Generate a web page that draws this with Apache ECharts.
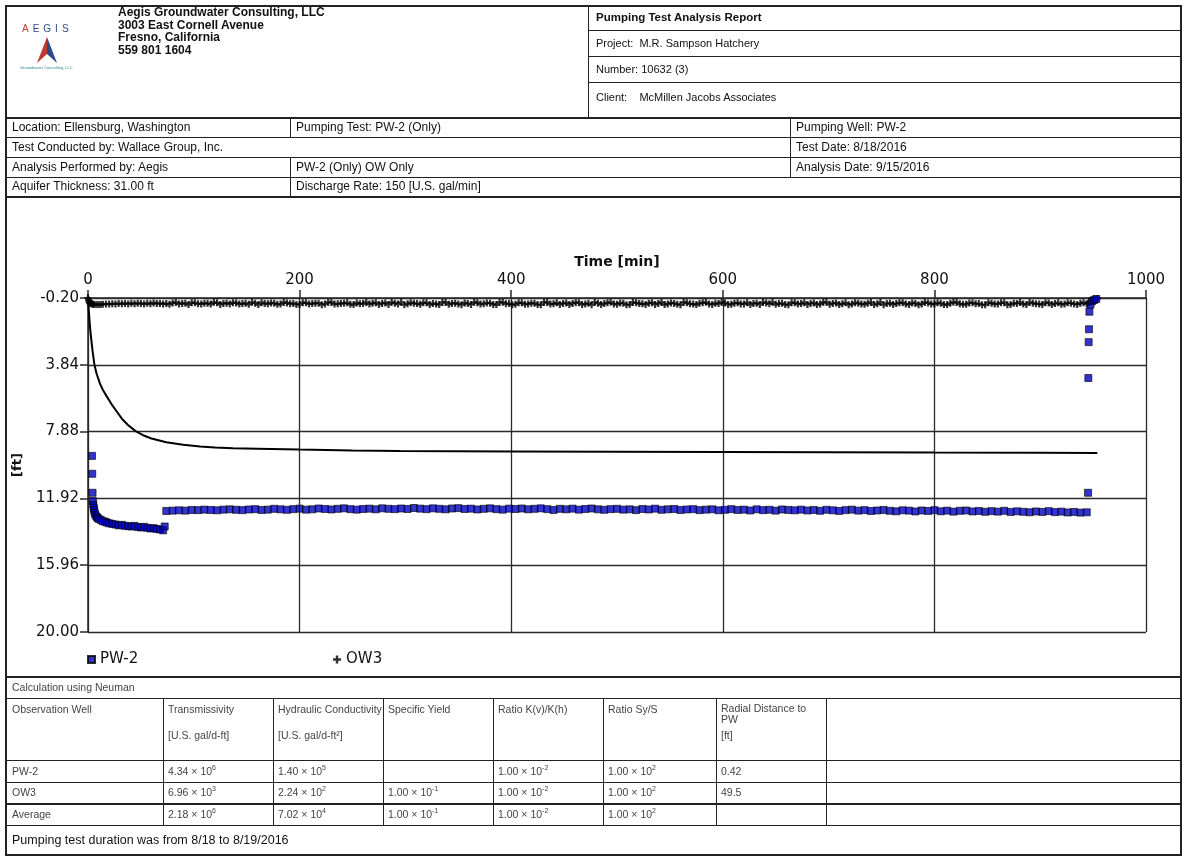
<!DOCTYPE html>
<html><head><meta charset="utf-8">
<script src="https://cdn.jsdelivr.net/npm/echarts@6/dist/echarts.min.js"></script>
<style>
html,body{margin:0;padding:0;background:#fff;}
#page{position:relative;width:1185px;height:859px;overflow:hidden;font-family:'Liberation Sans',Arial,sans-serif;color:#111;}
#chart{position:absolute;left:0;top:0;width:1185px;height:859px;}
.ov{position:absolute;left:0;top:0;width:1185px;height:859px;pointer-events:none;}
.h{position:absolute;height:0;border-top:1.5px solid #222;}
.v{position:absolute;width:0;border-left:1.5px solid #222;}
.t{position:absolute;white-space:nowrap;font-size:12px;}
.r{position:absolute;white-space:nowrap;font-size:12px;line-height:20px;}
.s{position:absolute;white-space:nowrap;font-size:10.5px;color:#444;}
.s sup{font-size:7px;vertical-align:5px;line-height:0;}
</style></head>
<body>
<div id="page">
<div id="chart"></div>
<div class="ov">
  <div style="position:absolute;left:5px;top:5px;width:1177px;height:851px;border:2px solid #222;box-sizing:border-box;"></div>
  <!-- header block -->
  <div class="t" style="left:22px;top:23px;font-size:10px;letter-spacing:4px;"><span style="color:#c0392b">A</span><span style="color:#2e4a8a">EGIS</span></div>
  <svg style="position:absolute;left:37px;top:37px" width="20" height="26" viewBox="0 0 20 26"><polygon points="10,0 0,26 10,17" fill="#c0392b"/><polygon points="10,0 20,26 10,17" fill="#2e4a8a"/></svg>
  <div class="t" style="left:20px;top:65px;font-size:4px;color:#2a8a8a;">Groundwater Consulting, LLC</div>
  <div class="t" style="left:118px;top:6px;font-weight:bold;font-size:12px;line-height:12.5px;">Aegis Groundwater Consulting, LLC<br>3003 East Cornell Avenue<br>Fresno, California<br>559 801 1604</div>
  <div class="v" style="left:588px;top:5px;height:112px;"></div>
  <div class="h" style="left:588px;top:30px;width:594px;"></div>
  <div class="h" style="left:588px;top:56px;width:594px;"></div>
  <div class="h" style="left:588px;top:82px;width:594px;"></div>
  <div class="t" style="left:596px;top:5px;line-height:25px;font-weight:bold;font-size:11.5px;">Pumping Test Analysis Report</div>
  <div class="t" style="left:596px;top:30px;line-height:26px;font-size:11px;">Project:&nbsp; M.R. Sampson Hatchery</div>
  <div class="t" style="left:596px;top:56px;line-height:26px;font-size:11px;">Number: 10632 (3)</div>
  <div class="t" style="left:596px;top:82px;line-height:30px;font-size:11px;">Client:&nbsp;&nbsp;&nbsp; McMillen Jacobs Associates</div>
  <div class="h" style="left:5px;top:117px;width:1177px;border-top-width:2px;"></div>
  <div class="h" style="left:5px;top:137px;width:1177px;"></div>
  <div class="h" style="left:5px;top:157px;width:1177px;"></div>
  <div class="h" style="left:5px;top:177px;width:1177px;"></div>
  <div class="h" style="left:5px;top:196px;width:1177px;border-top-width:2px;"></div>
  <div class="v" style="left:290px;top:117px;height:20px;"></div>
  <div class="v" style="left:790px;top:117px;height:20px;"></div>
  <div class="v" style="left:790px;top:137px;height:20px;"></div>
  <div class="v" style="left:290px;top:157px;height:20px;"></div>
  <div class="v" style="left:790px;top:157px;height:20px;"></div>
  <div class="v" style="left:290px;top:177px;height:19px;"></div>
  <div class="r" style="left:12px;top:117px;">Location: Ellensburg, Washington</div>
  <div class="r" style="left:296px;top:117px;">Pumping Test: PW-2 (Only)</div>
  <div class="r" style="left:796px;top:117px;">Pumping Well: PW-2</div>
  <div class="r" style="left:12px;top:137px;">Test Conducted by: Wallace Group, Inc.</div>
  <div class="r" style="left:796px;top:137px;">Test Date: 8/18/2016</div>
  <div class="r" style="left:12px;top:157px;">Analysis Performed by: Aegis</div>
  <div class="r" style="left:296px;top:157px;">PW-2 (Only) OW Only</div>
  <div class="r" style="left:796px;top:157px;">Analysis Date: 9/15/2016</div>
  <div class="r" style="left:12px;top:177px;line-height:19px;">Aquifer Thickness: 31.00 ft</div>
  <div class="r" style="left:296px;top:177px;line-height:19px;">Discharge Rate: 150 [U.S. gal/min]</div>
  <!-- results table -->
  <div class="h" style="left:5px;top:676px;width:1177px;border-top-width:2px;"></div>
  <div class="h" style="left:5px;top:698px;width:1177px;"></div>
  <div class="h" style="left:5px;top:760px;width:1177px;"></div>
  <div class="h" style="left:5px;top:782px;width:1177px;"></div>
  <div class="h" style="left:5px;top:803px;width:1177px;border-top-width:2px;"></div>
  <div class="h" style="left:5px;top:825px;width:1177px;"></div>
  <div class="v" style="left:163px;top:698px;height:127px;"></div>
  <div class="v" style="left:273px;top:698px;height:127px;"></div>
  <div class="v" style="left:383px;top:698px;height:127px;"></div>
  <div class="v" style="left:493px;top:698px;height:127px;"></div>
  <div class="v" style="left:603px;top:698px;height:127px;"></div>
  <div class="v" style="left:716px;top:698px;height:127px;"></div>
  <div class="v" style="left:826px;top:698px;height:127px;"></div>
  <div class="s" style="left:12px;top:676px;line-height:22px;">Calculation using Neuman</div>
  <div class="s" style="left:12px;top:703px;">Observation Well</div>
  <div class="s" style="left:168px;top:703px;">Transmissivity</div>
  <div class="s" style="left:168px;top:729px;">[U.S. gal/d-ft]</div>
  <div class="s" style="left:278px;top:703px;">Hydraulic Conductivity</div>
  <div class="s" style="left:278px;top:729px;">[U.S. gal/d-ft²]</div>
  <div class="s" style="left:388px;top:703px;">Specific Yield</div>
  <div class="s" style="left:498px;top:703px;">Ratio K(v)/K(h)</div>
  <div class="s" style="left:608px;top:703px;">Ratio Sy/S</div>
  <div class="s" style="left:721px;top:703px;line-height:11px;">Radial Distance to<br>PW</div>
  <div class="s" style="left:721px;top:729px;">[ft]</div>
  <div class="s" style="left:12px;top:760px;line-height:22px;">PW-2</div>
  <div class="s" style="left:168px;top:760px;line-height:22px;">4.34 × 10<sup>6</sup></div>
  <div class="s" style="left:278px;top:760px;line-height:22px;">1.40 × 10<sup>5</sup></div>
  <div class="s" style="left:498px;top:760px;line-height:22px;">1.00 × 10<sup>-2</sup></div>
  <div class="s" style="left:608px;top:760px;line-height:22px;">1.00 × 10<sup>2</sup></div>
  <div class="s" style="left:721px;top:760px;line-height:22px;">0.42</div>
  <div class="s" style="left:12px;top:782px;line-height:21px;">OW3</div>
  <div class="s" style="left:168px;top:782px;line-height:21px;">6.96 × 10<sup>3</sup></div>
  <div class="s" style="left:278px;top:782px;line-height:21px;">2.24 × 10<sup>2</sup></div>
  <div class="s" style="left:388px;top:782px;line-height:21px;">1.00 × 10<sup>-1</sup></div>
  <div class="s" style="left:498px;top:782px;line-height:21px;">1.00 × 10<sup>-2</sup></div>
  <div class="s" style="left:608px;top:782px;line-height:21px;">1.00 × 10<sup>2</sup></div>
  <div class="s" style="left:721px;top:782px;line-height:21px;">49.5</div>
  <div class="s" style="left:12px;top:803px;line-height:22px;">Average</div>
  <div class="s" style="left:168px;top:803px;line-height:22px;">2.18 × 10<sup>6</sup></div>
  <div class="s" style="left:278px;top:803px;line-height:22px;">7.02 × 10<sup>4</sup></div>
  <div class="s" style="left:388px;top:803px;line-height:22px;">1.00 × 10<sup>-1</sup></div>
  <div class="s" style="left:498px;top:803px;line-height:22px;">1.00 × 10<sup>-2</sup></div>
  <div class="s" style="left:608px;top:803px;line-height:22px;">1.00 × 10<sup>2</sup></div>
  <div class="t" style="left:12px;top:825px;line-height:30px;font-size:12.5px;">Pumping test duration was from 8/18 to 8/19/2016</div>
</div>
</div>
<script>
// ---- data (time in minutes, drawdown in ft) ----
const xTicks = [0, 200, 400, 600, 800, 1000];
const yTicks = [-0.20, 3.84, 7.88, 11.92, 15.96, 20.00];

// Neuman type-curve fit (solid line)
const fitT = [0,0.5,1,1.6,2.5,3.5,4.4,6,8,11.3,14,17.7,22,27,32,38,45,52,60,74,90,106,120,137,160,200,250,295,400,500,600,700,800,900,954];
const fitV = [-0.2,0.35,0.75,1.33,1.95,2.55,3.05,3.8,4.35,4.98,5.35,5.75,6.2,6.65,7.1,7.5,7.85,8.1,8.3,8.52,8.67,8.78,8.84,8.89,8.92,8.97,9.02,9.06,9.08,9.1,9.12,9.13,9.15,9.16,9.17];

// PW-2 early readings
const pwEarlyT = [3.8,4.0,4.3,4.6,5.0,5.4,5.8,6.3,7,8,9,10,12,14,16,18,20,23,26,29,32,35,38,41,44,47,50,53,56,59,62,65,68,71,72.5];
const pwEarlyV = [9.35,10.43,11.58,12.08,12.3,12.48,12.62,12.79,12.92,13.02,13.1,13.15,13.22,13.3,13.33,13.38,13.43,13.46,13.5,13.55,13.52,13.58,13.6,13.62,13.58,13.65,13.68,13.64,13.7,13.74,13.72,13.77,13.8,13.85,13.62];

// regular readings (both wells)
const gridT = [74,80,86,92,98,104,110,116,122,128,
134,140,146,152,158,164,170,176,182,188,
194,200,206,212,218,224,230,236,242,248,
254,260,266,272,278,284,290,296,302,308,
314,320,326,332,338,344,350,356,362,368,
374,380,386,392,398,404,410,416,422,428,
434,440,446,452,458,464,470,476,482,488,
494,500,506,512,518,524,530,536,542,548,
554,560,566,572,578,584,590,596,602,608,
614,620,626,632,638,644,650,656,662,668,
674,680,686,692,698,704,710,716,722,728,
734,740,746,752,758,764,770,776,782,788,
794,800,806,812,818,824,830,836,842,848,
854,860,866,872,878,884,890,896,902,908,
914,920,926,932,938,944];
const pwBandV = [12.68,12.66,12.64,12.66,12.62,12.63,12.60,12.62,12.64,12.60,
12.58,12.61,12.63,12.59,12.57,12.62,12.60,12.55,12.58,12.61,
12.57,12.54,12.60,12.58,12.53,12.56,12.59,12.55,12.52,12.57,
12.60,12.56,12.54,12.58,12.52,12.55,12.57,12.53,12.56,12.50,
12.54,12.57,12.52,12.55,12.58,12.53,12.51,12.56,12.54,12.59,
12.55,12.52,12.57,12.60,12.54,12.56,12.53,12.58,12.55,12.52,
12.57,12.62,12.55,12.58,12.54,12.60,12.56,12.53,12.58,12.61,
12.57,12.55,12.60,12.58,12.63,12.56,12.59,12.54,12.61,12.58,
12.56,12.62,12.59,12.57,12.63,12.60,12.58,12.64,12.61,12.57,
12.62,12.60,12.65,12.58,12.63,12.61,12.66,12.59,12.62,12.64,
12.60,12.65,12.62,12.67,12.61,12.64,12.68,12.63,12.60,12.66,
12.63,12.68,12.65,12.62,12.67,12.70,12.64,12.66,12.71,12.65,
12.68,12.63,12.70,12.66,12.72,12.67,12.65,12.71,12.68,12.73,
12.69,12.72,12.67,12.74,12.70,12.73,12.76,12.71,12.74,12.69,
12.75,12.72,12.77,12.74,12.78,12.76];
const owBandV = [0.14,0.10,0.16,0.12,0.08,0.15,0.11,0.17,0.09,0.13,
0.16,0.10,0.14,0.18,0.11,0.08,0.15,0.12,0.17,0.10,
0.13,0.19,0.09,0.14,0.11,0.16,0.07,0.15,0.12,0.18,
0.10,0.14,0.17,0.08,0.13,0.19,0.11,0.06,0.15,0.12,
0.18,0.09,0.14,0.20,0.07,0.13,0.16,0.10,0.19,0.08,
0.15,0.11,0.20,0.06,0.14,0.18,0.09,0.16,0.12,0.21,
0.07,0.15,0.19,0.10,0.13,0.08,0.17,0.21,0.11,0.14,
0.06,0.18,0.12,0.20,0.09,0.15,0.11,0.19,0.07,0.16,
0.13,0.21,0.08,0.17,0.12,0.06,0.19,0.14,0.10,0.18,
0.09,0.16,0.20,0.11,0.07,0.15,0.18,0.12,0.21,0.08,
0.14,0.19,0.10,0.16,0.06,0.13,0.20,0.09,0.17,0.12,
0.18,0.07,0.15,0.21,0.11,0.14,0.08,0.19,0.13,0.16,
0.10,0.17,0.12,0.20,0.06,0.15,0.18,0.09,0.14,0.21,
0.11,0.16,0.08,0.19,0.13,0.17,0.07,0.15,0.20,0.10,
0.14,0.18,0.09,0.16,0.12,0.15];

// OW3 intermediate readings
const gridT2 = [77,83,89,95,101,107,113,119,125,131,
137,143,149,155,161,167,173,179,185,191,
197,203,209,215,221,227,233,239,245,251,
257,263,269,275,281,287,293,299,305,311,
317,323,329,335,341,347,353,359,365,371,
377,383,389,395,401,407,413,419,425,431,
437,443,449,455,461,467,473,479,485,491,
497,503,509,515,521,527,533,539,545,551,
557,563,569,575,581,587,593,599,605,611,
617,623,629,635,641,647,653,659,665,671,
677,683,689,695,701,707,713,719,725,731,
737,743,749,755,761,767,773,779,785,791,
797,803,809,815,821,827,833,839,845,851,
857,863,869,875,881,887,893,899,905,911,
917,923,929,935,941];
const owBand2V = [0.18,0.07,0.13,0.20,0.09,0.16,0.12,0.06,0.19,0.11,
0.08,0.17,0.12,0.06,0.20,0.14,0.10,0.18,0.07,0.15,
0.19,0.08,0.16,0.11,0.21,0.07,0.17,0.13,0.09,0.20,
0.15,0.07,0.12,0.19,0.10,0.06,0.17,0.21,0.08,0.14,
0.09,0.20,0.16,0.07,0.18,0.11,0.21,0.14,0.06,0.17,
0.10,0.19,0.07,0.15,0.21,0.09,0.18,0.11,0.20,0.07,
0.17,0.09,0.13,0.20,0.08,0.19,0.12,0.07,0.20,0.09,
0.16,0.10,0.21,0.07,0.14,0.19,0.08,0.13,0.20,0.10,
0.18,0.07,0.15,0.20,0.09,0.16,0.12,0.07,0.19,0.11,
0.16,0.08,0.13,0.19,0.10,0.06,0.14,0.20,0.09,0.17,
0.08,0.13,0.20,0.07,0.18,0.10,0.15,0.21,0.08,0.16,
0.11,0.20,0.07,0.14,0.19,0.09,0.17,0.10,0.21,0.07,
0.16,0.09,0.20,0.12,0.07,0.18,0.10,0.15,0.21,0.08,
0.17,0.09,0.21,0.12,0.07,0.19,0.11,0.16,0.08,0.20,
0.09,0.17,0.11,0.19,0.08];

// PW-2 recovery after pump shut-off
const pwRecT = [945.2,945.5,945.8,946.1,946.5,947.5,949,951,953];
const pwRecV = [11.58,4.64,2.47,1.69,0.63,0.2,0.0,-0.08,-0.14];

// OW3 early and late readings
const owEarlyT = [0,0.5,1,1.5,2,3,4,5,6,8,10,12,14,17,20,23,26,29,32,35,38,41,44,47,50,53,56,59,62,65,68,71];
const owEarlyV = [-0.2,-0.08,0.02,0.08,0.12,0.15,0.17,0.18,0.19,0.2,0.2,0.19,0.18,0.16,0.17,0.15,0.16,0.14,0.15,0.13,0.16,0.12,0.15,0.11,0.14,0.16,0.12,0.15,0.10,0.14,0.13,0.16];
const owLateT = [946,948,950,952,954];
const owLateV = [0.10,0.02,-0.06,-0.12,-0.17];

const pair = (t, v) => t.map((x, i) => [x, v[i]]);
const pwData = pair(pwEarlyT, pwEarlyV).concat(pair(gridT, pwBandV), pair(pwRecT, pwRecV));
const owData = pair(owEarlyT, owEarlyV).concat(pair(gridT, owBandV), pair(gridT2, owBand2V), pair(owLateT, owLateV));
const fitData = pair(fitT, fitV);

const PLUS = 'path://M2.75,0H5.25V2.75H8V5.25H5.25V8H2.75V5.25H0V2.75H2.75Z';
const FONT = 'DejaVu Sans';
const GRID = '#2a2a2a';

const chart = echarts.init(document.getElementById('chart'), null, {renderer: 'canvas'});
chart.setOption({
  animation: false,
  backgroundColor: 'transparent',
  textStyle: {fontFamily: FONT},
  grid: {left: 88, right: 39, top: 298, bottom: 227},
  xAxis: {
    type: 'value', position: 'top', min: xTicks[0], max: xTicks[xTicks.length - 1], interval: 200,
    name: 'Time [min]', nameLocation: 'middle', nameGap: 29,
    nameTextStyle: {fontWeight: 'bold', fontSize: 14, color: '#111', fontFamily: FONT},
    axisLine: {show: true, onZero: false, lineStyle: {color: GRID, width: 1.5}},
    axisTick: {show: true, length: 8, lineStyle: {color: GRID, width: 1.5}},
    axisLabel: {fontSize: 15, color: '#111', margin: 10, fontFamily: FONT, formatter: v => String(v)},
    splitLine: {show: true, lineStyle: {color: GRID, width: 1.3}}
  },
  yAxis: {
    type: 'value', inverse: true, min: yTicks[0], max: yTicks[yTicks.length - 1],
    name: '[ft]', nameLocation: 'middle', nameGap: 64, nameRotate: 90,
    nameTextStyle: {fontWeight: 'bold', fontSize: 13, color: '#111', fontFamily: FONT},
    axisLine: {show: true, onZero: false, lineStyle: {color: GRID, width: 1.5}},
    axisTick: {show: true, length: 8, customValues: yTicks, lineStyle: {color: GRID, width: 1.5}},
    axisLabel: {customValues: yTicks, formatter: v => v.toFixed(2), fontSize: 15, color: '#111', margin: 9, fontFamily: FONT},
    splitLine: {show: true, lineStyle: {color: GRID, width: 1.3}}
  },
  legend: [
    {data: [{name: 'PW-2', icon: 'rect'}], left: 87, top: 652, padding: 0, itemWidth: 7, itemHeight: 7,
     textStyle: {fontSize: 15, color: '#111', fontFamily: FONT}},
    {data: [{name: 'OW3', icon: PLUS}], left: 333, top: 652, padding: 0, itemWidth: 8, itemHeight: 8,
     textStyle: {fontSize: 15, color: '#111', fontFamily: FONT}}
  ],
  series: [
    {name: 'Neuman', type: 'line', data: fitData, showSymbol: false, symbol: 'none',
     lineStyle: {color: '#000', width: 2}, z: 2},
    {name: 'OW3', type: 'scatter', data: owData, symbol: PLUS, symbolSize: 7,
     itemStyle: {color: '#000'}, z: 3},
    {name: 'PW-2', type: 'scatter', data: pwData, symbol: 'rect', symbolSize: 7,
     itemStyle: {color: '#0000c0', borderColor: '#000', borderWidth: 0.8}, z: 4}
  ]
});
</script>
</body></html>
